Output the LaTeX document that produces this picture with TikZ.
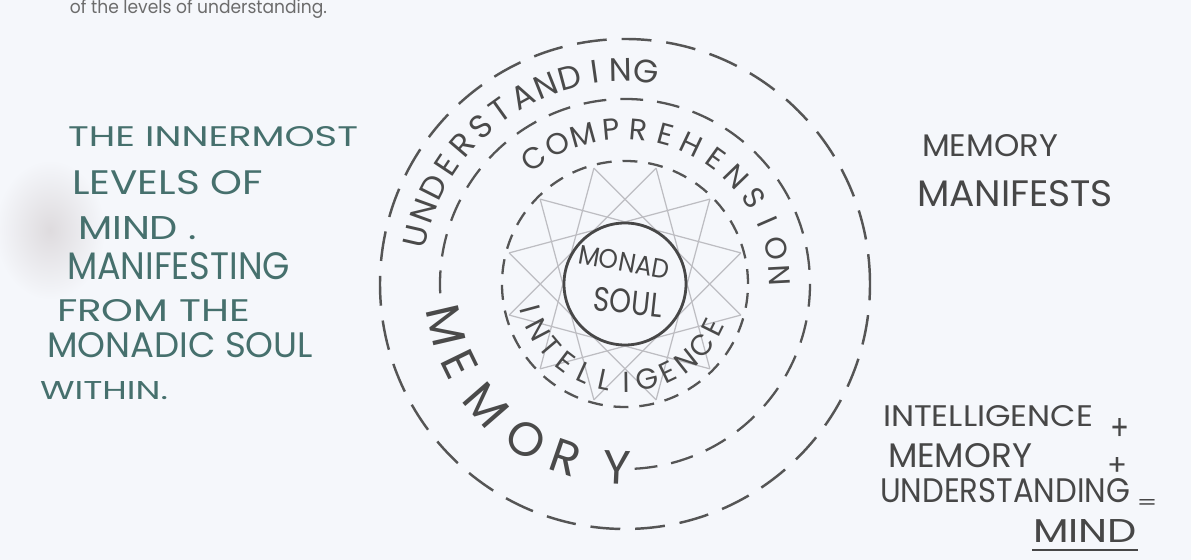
\documentclass[tikz,border=0pt]{standalone}
\usepackage{fontspec}
\setmainfont{Poppins}
\usepackage{graphicx}
\newlength\pxu
\setlength\pxu{0.02cm}
\newcommand\fitbox[3]{\resizebox{#1\pxu}{#2\pxu}{#3}}
\definecolor{bg}{HTML}{F5F7FB}
\definecolor{inkteal}{HTML}{46706D}
\definecolor{inkgray}{HTML}{474747}
\definecolor{ringc}{HTML}{4A4A4A}
\definecolor{linec}{HTML}{555555}
\definecolor{smudge}{HTML}{DEDBDE}
\definecolor{starc}{HTML}{BDBDC2}
\tikzset{
  txt/.style={inner sep=0pt, outer sep=0pt},
  lefttxt/.style={txt, text=inkteal, anchor=south west, font=\fontsize{16}{16}\selectfont},
  righttxt/.style={txt, text=inkgray, anchor=south west, font=\fontsize{16}{16}\selectfont},
  opsign/.style={txt, text=inkgray, font=\fontsize{16}{16}\selectfont},
  ringU/.style={txt, text=ringc, font=\fontsize{18.5}{18.5}\selectfont},
  ringC/.style={txt, text=ringc, font=\fontsize{17}{17}\selectfont},
  ringI/.style={txt, text=ringc, font=\fontsize{16.5}{16.5}\selectfont},
  ringM/.style={txt, text=ringc, font=\fontsize{27}{27}\selectfont},
  monadtxt/.style={txt, text=inkgray, font=\fontsize{14}{14}\selectfont},
  outerring/.style={draw=linec, line width=1.4pt, dash pattern=on 17pt off 8.5pt},
  midring/.style={draw=linec, line width=1.3pt, dash pattern=on 13pt off 8pt},
  innerring/.style={draw=linec, line width=1.3pt, dash pattern=on 8.5pt off 6.2pt},
  starline/.style={draw=starc, line width=0.7pt},
}
\begin{document}
\begin{tikzpicture}[x=0.02cm,y=0.02cm]
\fill[bg] (0,0) rectangle (1191,560);
\useasboundingbox (0,0) rectangle (1191,560);
% faint smudge on the left
\shade[inner color=smudge, outer color=bg] (50,330) ellipse (55 and 70);

% top cut-off line of text
\node[txt, anchor=base west, text=gray!85!black] (toptext) at (70,546)
  {\resizebox{257\pxu}{14\pxu}{of the levels of understanding.}};

% left text
\node[lefttxt] (l1) at (68,413) {\fitbox{290}{20}{THE INNERMOST}};
\node[lefttxt] (l2) at (72,365) {\fitbox{191}{24}{LEVELS OF}};
\node[lefttxt] (l3) at (78,320) {\fitbox{119}{23}{MIND .}};
\node[lefttxt] (l4) at (67,280) {\fitbox{223}{27}{MANIFESTING}};
\node[lefttxt] (l5) at (57,238) {\fitbox{193}{22}{FROM THE}};
\node[lefttxt] (l6) at (47,202) {\fitbox{266}{25}{MONADIC SOUL}};
\node[lefttxt] (l7) at (40,160) {\fitbox{128}{18}{WITHIN.}};

% right text
\node[righttxt] (r1) at (922,403) {\fitbox{136}{22}{MEMORY}};
\node[righttxt] (r2) at (917,353) {\fitbox{196}{26}{MANIFESTS}};
\node[righttxt] (r3) at (883,133) {\fitbox{210}{21}{INTELLIGENCE}};
\node[opsign] (p1) at (1120,130) {\fitbox{19}{22}{+}};
\node[righttxt] (r4) at (888,92) {\fitbox{144}{24}{MEMORY}};
\node[opsign] (p2) at (1117,93) {\fitbox{20}{18}{+}};
\node[righttxt] (r5) at (880,57) {\fitbox{250}{24}{UNDERSTANDING}};
\node[opsign] (eq) at (1147,55) {\fitbox{21}{10}{=}};
\node[righttxt] (r6) at (1033,17) {\fitbox{104}{23}{MIND}};
\coordinate (ulA) at (1032,10);
\coordinate (ulB) at (1138,10);
\draw[inkgray, line width=1.4pt] (ulA) -- (ulB);

% circles
\begin{scope}[shift={(625,276)}]
  \draw[outerring] (0,0) circle (245);
  \draw[midring] (-87:185) arc[start angle=-87, end angle=186, radius=185];
  \draw[innerring] (0,0) circle (123);
  % star pattern: four overlapping triangles round the monad
  \foreach \j in {0,...,11}{
    \draw[starline] ({15+30*\j}:120) -- ({135+30*\j}:120);
  }
  \node[circle, draw=inkgray, line width=1.6pt, fill=bg, minimum size=122\pxu, inner sep=0pt] (monad) at (0,0) {};
  \node[monadtxt, rotate=-10] (monadw) at (-1,22) {\fitbox{92}{19}{MONAD}};
  \node[monadtxt, rotate=-6] (soulw) at (3,-18) {\fitbox{69}{24}{SOUL}};

  % UNDERSTANDING
  \foreach \l [count=\i from 0] in {U,N,D,E,R,S,T,A,N,D,I,N,G}{
    \pgfmathsetmacro\a{167-\i*6.9}
    \pgfmathsetmacro\rr{\a-90}
    \node[ringU, rotate=\rr] (und\i) at (\a:214) {\l};
  }
  % COMPREHENSION
  \foreach \l [count=\i from 0] in {C,O,M,P,R,E,H,E,N,S,I,O,N}{
    \pgfmathsetmacro\a{126-\i*10.25}
    \pgfmathsetmacro\rr{\a-90}
    \node[ringC, rotate=\rr] (com\i) at (\a:155) {\l};
  }
  % INTELLIGENCE
  \foreach \l [count=\i from 0] in {I,N,T,E,L,L,I,G,E,N,C,E}{
    \pgfmathsetmacro\a{195+\i*12.6}
    \pgfmathsetmacro\rr{\a+90}
    \node[ringI, rotate=\rr] (int\i) at (\a:98) {\l};
  }
  % MEMORY
  \foreach \l/\a [count=\i] in {M/193, E/206, M/221, O/237.5, R/251, Y/267.5}{
    \pgfmathsetmacro\rr{\a+90}
    \node[ringM, rotate=\rr] (mem\i) at (\a:184) {\l};
  }
\end{scope}
\end{tikzpicture}
\end{document}
